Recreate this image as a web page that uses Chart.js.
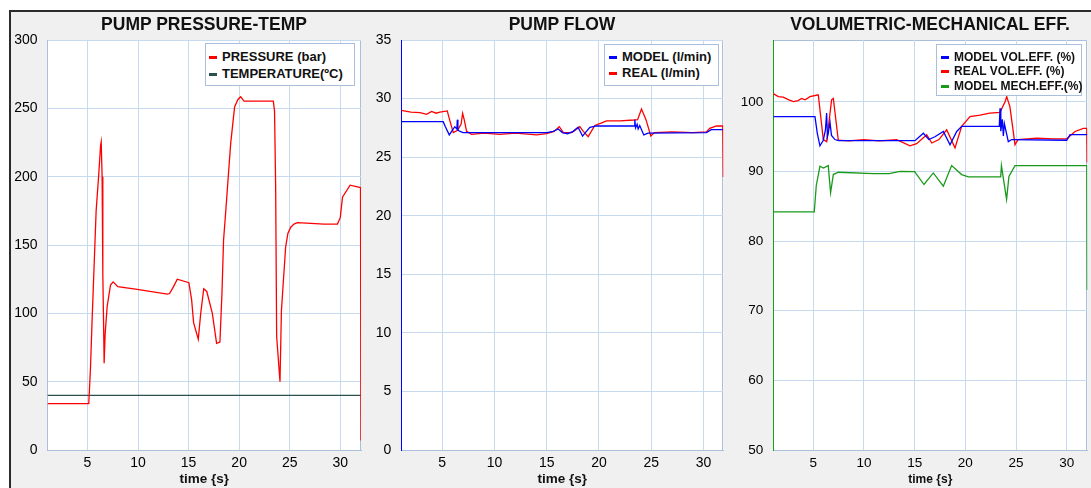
<!DOCTYPE html>
<html>
<head>
<meta charset="utf-8">
<script src="https://cdn.jsdelivr.net/npm/chart.js@4.4.0/dist/chart.umd.min.js"></script>
<style>
  html, body { margin: 0; padding: 0; background: #fff; }
  #stage { position: relative; width: 1091px; height: 488px; overflow: hidden; background: #fff;
           font-family: "Liberation Sans", Arial, sans-serif; }
  #frame { position: absolute; left: 9px; top: 10px; right: 0; bottom: 0; background: #f0f0f0;
           border-top: 2px solid #2b2b2b; border-left: 2px solid #2b2b2b; }
  .panel { position: absolute; top: 0; }
  .title { position: absolute; top: 14px; font-weight: bold; font-size: 17.5px; line-height: 20px;
           text-align: center; white-space: nowrap; color: #111; }
  .legend { position: absolute; background: #fff; border: 1px solid #a9bfdc; box-sizing: border-box;
            font-weight: bold; color: #111; }
  .legend .row { position: absolute; white-space: nowrap; }
  .legend i { position: absolute; width: 8px; height: 3px; }
</style>
</head>
<body>
<div id="stage">
  <div id="frame"></div>
  <canvas id="c1" class="panel" width="366" height="488" style="left:0px"></canvas>
  <canvas id="c2" class="panel" width="362" height="488" style="left:366px"></canvas>
  <canvas id="c3" class="panel" width="363" height="488" style="left:728px"></canvas>
  <div class="title" style="left:47px;width:314px">PUMP PRESSURE-TEMP</div>
  <div class="title" style="left:401px;width:322px">PUMP FLOW</div>
  <div class="title" style="left:773px;width:314px">VOLUMETRIC-MECHANICAL EFF.</div>
  <div id="leg1" class="legend" style="left:205px;top:43px;width:150px;height:43px;font-size:13px"></div>
  <div id="leg2" class="legend" style="left:604px;top:44px;width:115px;height:42px;font-size:13px"></div>
  <div id="leg3" class="legend" style="left:936px;top:44px;width:146px;height:52px;font-size:12px"></div>
</div>
<script>
  // axis ticks
  const X_TICKS = [5, 10, 15, 20, 25, 30];
  const PRESS_Y_TICKS = [0, 50, 100, 150, 200, 250, 300];
  const FLOW_Y_TICKS = [0, 5, 10, 15, 20, 25, 30, 35];
  const EFF_Y_TICKS = [50, 60, 70, 80, 90, 100];
  const X_LABEL = 'time {s}';

  // panel 1: pump pressure / temperature
  const pressureT = [1.05, 5.13, 5.3, 5.46, 5.86, 6.12, 6.3, 6.36, 6.45, 6.52, 6.62, 6.65, 6.75, 6.95, 7.28, 7.54, 8.0, 9.92, 12.9, 13.12, 13.5, 13.88, 15.03, 15.3, 15.5, 15.96, 16.2, 16.5, 16.8, 17.35, 17.77, 18.1, 18.3, 18.46, 18.66, 19.16, 19.55, 19.88, 20.15, 20.48, 23.38, 23.5, 23.61, 23.71, 24.04, 24.18, 24.6, 24.82, 25.1, 25.42, 25.76, 28.4, 29.72, 30.0, 30.22, 30.97, 32.0, 32.05];
  const pressureV = [34, 34, 60, 95, 175, 202, 223, 225.5, 200, 129, 80.5, 63.5, 85, 105, 120.7, 123, 119.5, 117.5, 114, 114.5, 119.4, 125, 122.4, 110, 93, 81, 100, 118, 116, 100, 78, 79, 114.5, 153.6, 173, 224, 251, 256.5, 258.5, 255.3, 255.3, 248, 192.6, 83, 50, 102, 148.7, 158.5, 163, 165.3, 166.3, 165.3, 165.3, 170, 185, 193.8, 192, 7];
  const tempT = [1.05, 32.05];
  const tempV = [40, 40];

  // panel 2: pump flow
  const flowModelT = [1.08, 5.09, 5.3, 5.67, 5.9, 6.2, 6.4, 6.44, 6.5, 6.7, 7.0, 7.5, 15.0, 15.62, 16.1, 16.5, 17.0, 17.53, 18.0, 18.43, 18.8, 19.13, 19.77, 23.37, 23.43, 23.5, 23.65, 23.75, 23.9, 24.29, 24.7, 30.29, 30.75, 31.9];
  const flowModelV = [28.03, 28.03, 27.6, 26.9, 27.2, 27.6, 27.4, 28.2, 27.3, 27.2, 27.1, 27.09, 27.09, 27.2, 27.4, 27.1, 27.0, 27.2, 27.55, 26.8, 27.2, 27.55, 27.66, 27.66, 28.2, 27.5, 27.8, 27.4, 27.7, 26.9, 27.05, 27.1, 27.35, 27.35];
  const flowRealT = [1.08, 2.0, 2.87, 3.5, 3.98, 4.4, 4.78, 5.48, 5.7, 6.05, 6.47, 6.8, 6.95, 7.1, 7.33, 7.81, 9.0, 10.5, 12.0, 14.03, 15.0, 15.7, 16.2, 16.6, 17.4, 18.17, 18.5, 18.97, 19.6, 20.2, 20.72, 21.99, 23.34, 23.7, 24.07, 24.5, 24.96, 25.3, 27.0, 29.0, 30.29, 30.6, 31.25, 31.85, 31.9];
  const flowRealV = [29.0, 28.85, 28.8, 28.65, 28.9, 28.75, 28.85, 28.95, 28.2, 27.1, 27.3, 27.8, 28.74, 28.2, 27.2, 26.95, 27.05, 26.95, 27.05, 26.9, 27.0, 27.2, 27.6, 27.1, 27.1, 27.6, 27.2, 26.75, 27.7, 27.9, 28.1, 28.1, 28.17, 28.2, 29.1, 28.2, 26.8, 27.1, 27.15, 27.1, 27.15, 27.46, 27.66, 27.66, 23.3];

  // panel 3: volumetric / mechanical efficiency
  const volModelT = [1.06, 5.17, 5.4, 5.66, 5.99, 6.2, 6.32, 6.4, 6.48, 6.65, 6.8, 7.14, 7.5, 15.03, 15.86, 16.4, 17.0, 17.83, 18.49, 19.15, 19.64, 23.35, 23.42, 23.5, 23.65, 23.75, 23.85, 24.24, 24.57, 30.0, 30.33, 32.03];
  const volModelV = [97.9, 97.9, 95.5, 93.7, 94.5, 96.0, 98.4, 95.0, 95.5, 97.1, 95.2, 94.6, 94.43, 94.43, 95.5, 94.6, 95.0, 95.76, 93.86, 95.76, 96.5, 96.5, 99.1, 95.8, 97.5, 95.1, 96.9, 94.3, 94.6, 94.5, 95.3, 95.3];
  const volRealT = [1.06, 1.55, 2.04, 2.6, 3.03, 3.5, 3.86, 4.2, 4.68, 5.4, 5.5, 5.99, 6.32, 6.81, 6.98, 7.47, 8.5, 10.0, 11.5, 13.23, 14.54, 15.2, 16.19, 16.69, 17.4, 18.16, 18.98, 19.64, 20.46, 21.45, 22.4, 23.42, 23.92, 24.08, 24.4, 24.9, 25.2, 27.04, 28.68, 30.0, 30.82, 31.64, 31.98, 32.02];
  const volRealV = [101.2, 100.76, 100.7, 100.3, 100.04, 100.2, 100.5, 100.3, 100.76, 101.0, 101.0, 94.6, 94.3, 100.3, 100.5, 94.5, 94.4, 94.6, 94.4, 94.57, 93.7, 94.0, 95.3, 94.1, 94.6, 96.0, 93.4, 96.5, 97.9, 98.1, 98.4, 98.5, 100.04, 100.76, 99.3, 93.86, 94.6, 94.8, 94.7, 94.7, 95.76, 96.2, 96.2, 91.3];
  const mechModelT = [1.06, 5.1, 5.3, 5.66, 6.0, 6.48, 6.71, 6.98, 7.47, 10.92, 12.5, 13.56, 15.0, 15.92, 16.84, 17.83, 18.65, 19.64, 20.3, 23.49, 23.56, 23.72, 24.07, 24.3, 24.9, 31.98, 32.02];
  const mechModelV = [84.2, 84.2, 88.0, 90.76, 90.5, 90.86, 86.96, 89.57, 89.9, 89.7, 89.7, 90.04, 90.0, 88.14, 89.8, 87.9, 90.86, 89.57, 89.24, 89.24, 90.86, 89.3, 86.0, 89.3, 90.86, 90.86, 73];

  const FONT = '"Liberation Sans", Arial, sans-serif';
  const GRID = '#c6d9ef';
  const EDGE = '#a9bfdc';

  function pts(ts, vs) { return ts.map((t, i) => ({ x: t, y: vs[i] })); }

  const plotFrame = {
    id: 'plotFrame',
    beforeDraw(chart) {
      const { ctx, chartArea: a } = chart;
      ctx.save();
      ctx.fillStyle = '#fff';
      ctx.fillRect(a.left, a.top, a.width, a.height);
      ctx.strokeStyle = EDGE;
      ctx.lineWidth = 1;
      ctx.beginPath();
      ctx.moveTo(Math.round(a.left), Math.round(a.top) + 0.5);
      ctx.lineTo(Math.round(a.right) - 0.5, Math.round(a.top) + 0.5);
      ctx.lineTo(Math.round(a.right) - 0.5, Math.round(a.bottom));
      ctx.stroke();
      ctx.restore();
    }
  };

  function makeChart(id, cfg) {
    new Chart(document.getElementById(id), {
      type: 'line',
      data: {
        datasets: cfg.series.map(s => ({
          label: s.label, data: s.data, borderColor: s.color, borderWidth: 1.3,
          pointRadius: 0, tension: 0, fill: false
        }))
      },
      options: {
        responsive: false,
        animation: false,
        layout: { padding: { left: 0, right: cfg.padRight, top: 40, bottom: 0 } },
        plugins: { legend: { display: false }, tooltip: { enabled: false } },
        scales: {
          x: {
            type: 'linear', min: cfg.xMin, max: cfg.xMax,
            afterBuildTicks: s => { s.ticks = X_TICKS.map(v => ({ value: v })); },
            afterFit: s => { s.height = 38; },
            grid: { color: GRID, drawTicks: false },
            border: { color: EDGE },
            ticks: { padding: 5, color: '#000', font: { family: FONT, size: cfg.tickSize }, maxRotation: 0, autoSkip: false },
            title: { display: true, text: X_LABEL, color: '#111', font: { family: FONT, size: cfg.xTitleSize, weight: 'bold' }, padding: { top: 0, bottom: 1 } }
          },
          y: {
            type: 'linear', min: cfg.yMin, max: cfg.yMax,
            afterBuildTicks: s => { s.ticks = cfg.yTicks.map(v => ({ value: v })); },
            afterFit: s => { s.width = cfg.yWidth; },
            grid: { color: GRID, drawTicks: false },
            border: { color: cfg.yEdge },
            ticks: { padding: 10, color: '#000', font: { family: FONT, size: cfg.tickSize }, autoSkip: false }
          }
        }
      },
      plugins: [plotFrame]
    });
  }

  function makeLegend(id, items, rows, markLeft) {
    const box = document.getElementById(id);
    const top = box.offsetTop;
    box.innerHTML = items.map((it, i) =>
      `<i style="left:${markLeft}px;top:${rows[i] - top - 2.5}px;background:${it.color}"></i>` +
      `<div class="row" style="left:${markLeft + 13}px;top:${rows[i] - top - 9}px;line-height:16px">${it.label}</div>`
    ).join('');
  }

  const s1 = [
    { label: 'PRESSURE (bar)', color: '#ff0000', data: pts(pressureT, pressureV) },
    { label: 'TEMPERATURE(ºC)', color: '#2e4f4f', data: pts(tempT, tempV) }
  ];
  const s2 = [
    { label: 'MODEL (l/min)', color: '#0000ff', data: pts(flowModelT, flowModelV) },
    { label: 'REAL (l/min)', color: '#ff0000', data: pts(flowRealT, flowRealV) }
  ];
  const s3 = [
    { label: 'MODEL VOL.EFF. (%)', color: '#0000ff', data: pts(volModelT, volModelV) },
    { label: 'REAL VOL.EFF. (%)', color: '#ff0000', data: pts(volRealT, volRealV) },
    { label: 'MODEL MECH.EFF.(%)', color: '#1a9a1a', data: pts(mechModelT, mechModelV) }
  ];

  makeChart('c1', { series: s1, xMin: 1.05, xMax: 32.05, yMin: 0, yMax: 300, yTicks: PRESS_Y_TICKS,
    yWidth: 47.5, padRight: 5, yEdge: EDGE, tickSize: 14, xTitleSize: 13.5 });
  makeChart('c2', { series: s2, xMin: 1.08, xMax: 31.9, yMin: 0, yMax: 35, yTicks: FLOW_Y_TICKS,
    yWidth: 35.3, padRight: 4.7, yEdge: '#0000ff', tickSize: 14, xTitleSize: 13.5 });
  makeChart('c3', { series: s3, xMin: 1.06, xMax: 32.03, yMin: 50, yMax: 108.9, yTicks: EFF_Y_TICKS,
    yWidth: 45.3, padRight: 3.7, yEdge: '#1a9a1a', tickSize: 13.5, xTitleSize: 12 });

  makeLegend('leg1', s1, [57.3, 74], 3);
  makeLegend('leg2', s2, [57.3, 73], 4);
  makeLegend('leg3', s3, [57.3, 71.3, 86], 4);
</script>
</body>
</html>
